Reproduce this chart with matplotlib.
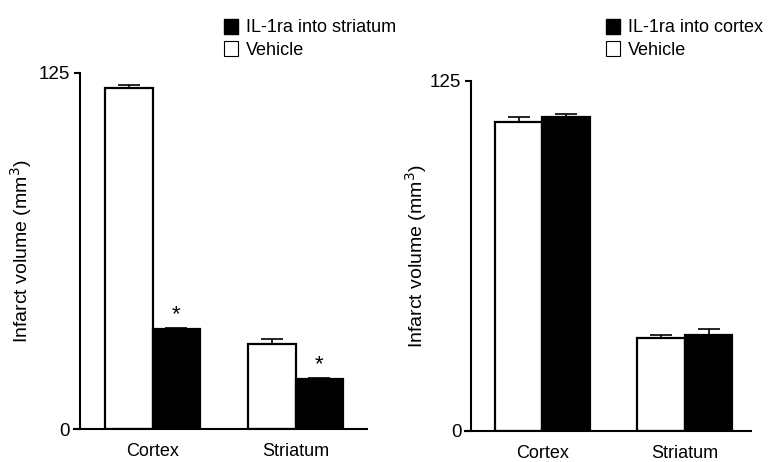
import matplotlib
matplotlib.use("Agg")
import matplotlib.pyplot as plt
from matplotlib.patches import Patch

plt.rcParams["font.family"] = ["Liberation Sans", "DejaVu Sans"]

# data
regions = ["Cortex", "Striatum"]
left_vehicle = [119.8, 29.9]
left_vehicle_err = [1.1, 1.8]
left_il1ra = [35.0, 17.4]
left_il1ra_err = [0.6, 0.5]
left_sig = [True, True]

right_vehicle = [110.4, 33.1]
right_vehicle_err = [1.8, 1.1]
right_il1ra = [112.3, 34.2]
right_il1ra_err = [0.8, 2.0]

fig = plt.figure(figsize=(7.78, 4.62), dpi=100, facecolor="white")


def draw_panel(rect, vehicle, v_err, il, il_err, label, spine_x, xlim, lab_x, sig=None):
    ax = fig.add_axes(rect)
    centers = [1, 4]
    xv = [c - 0.5 for c in centers]
    xi = [c + 0.5 for c in centers]
    ekw = dict(elinewidth=1.2, capthick=1.2, ecolor="black")
    ax.bar(xv, vehicle, width=1, color="white", edgecolor="black", linewidth=1.6,
           yerr=[[0, 0], v_err], capsize=8, error_kw=ekw, zorder=2)
    ax.bar(xi, il, width=1, color="black", edgecolor="black", linewidth=1.6,
           yerr=[[0, 0], il_err], capsize=8, error_kw=ekw, zorder=2)
    if sig:
        for x, v, e, s in zip(xi, il, il_err, sig):
            if s:
                ax.annotate("*", (x, v + e), xytext=(0, 2), textcoords="offset points",
                            ha="center", va="bottom", fontsize=16)
    ax.set_ylim(0, 125)
    ax.set_xlim(*xlim)
    ax.set_yticks([0, 125])
    ax.set_yticklabels(["0", "125"])
    ax.set_xticks(centers)
    ax.set_xticklabels(regions)
    ax.tick_params(axis="x", length=0, pad=10, labelsize=13)
    ax.tick_params(axis="y", length=4, width=1.5, pad=3, labelsize=13.5)
    ax.spines["top"].set_visible(False)
    ax.spines["right"].set_visible(False)
    ax.spines["left"].set_position(("data", spine_x))
    ax.spines["left"].set_linewidth(1.5)
    ax.spines["bottom"].set_linewidth(1.5)
    ax.set_ylabel("Infarct volume (mm$^3$)", fontsize=14)
    ax.yaxis.set_label_coords(lab_x, 0.5)
    handles = [Patch(facecolor="black", edgecolor="black", label=label),
               Patch(facecolor="white", edgecolor="black", linewidth=0.8, label="Vehicle")]
    return ax, handles


ax1, h1 = draw_panel([0.0951, 0.0714, 0.3766, 0.7706], left_vehicle, left_vehicle_err,
                     left_il1ra, left_il1ra_err, "IL-1ra into striatum",
                     -0.53, (-0.65, 5.5), -0.137, sig=left_sig)
ax2, h2 = draw_panel([0.5977, 0.0677, 0.3676, 0.757], right_vehicle, right_vehicle_err,
                     right_il1ra, right_il1ra_err, "IL-1ra into cortex",
                     -0.5, (-0.63, 5.39), -0.126)

for handles, x in [(h1, 225 / 778), (h2, 607 / 778)]:
    fig.legend(handles=handles, loc="upper left", bbox_to_anchor=(x - 0.006, 1 - 15 / 462),
               frameon=False, fontsize=13, handlelength=0.8, handleheight=0.9,
               handletextpad=0.4, labelspacing=0.25, borderaxespad=0, borderpad=0.2)

fig.savefig("out.png", dpi=100, facecolor="white")
